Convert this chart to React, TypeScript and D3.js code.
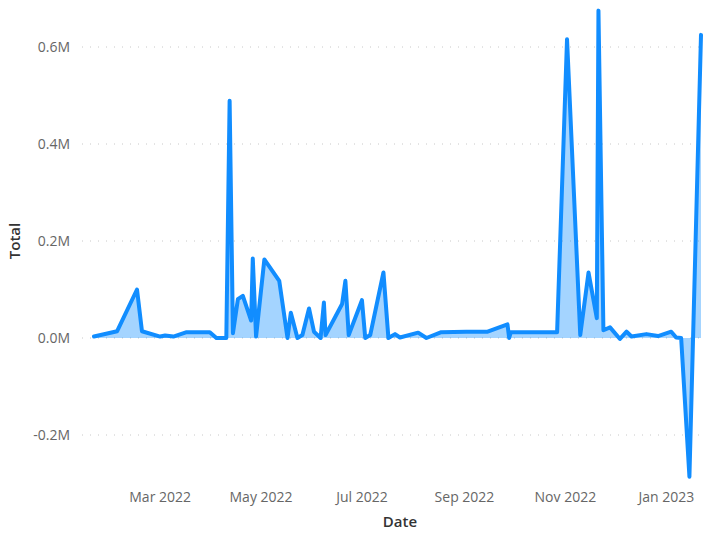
import React from "react";
import * as d3 from "d3";

// Daily totals
const dates: string[] = [
  "2022-01-20", "2022-02-03", "2022-02-15", "2022-02-18", "2022-03-01", "2022-03-04",
  "2022-03-09", "2022-03-17", "2022-03-31", "2022-04-04", "2022-04-10", "2022-04-12",
  "2022-04-14", "2022-04-17", "2022-04-20", "2022-04-25", "2022-04-26", "2022-04-28",
  "2022-05-03", "2022-05-12", "2022-05-17", "2022-05-19", "2022-05-23", "2022-05-26",
  "2022-05-30", "2022-06-02", "2022-06-06", "2022-06-08", "2022-06-09", "2022-06-19",
  "2022-06-21", "2022-06-23", "2022-07-01", "2022-07-03", "2022-07-06", "2022-07-14",
  "2022-07-17", "2022-07-21", "2022-07-24", "2022-08-04", "2022-08-09", "2022-08-18",
  "2022-09-02", "2022-09-15", "2022-09-27", "2022-09-28", "2022-09-29", "2022-10-27",
  "2022-11-02", "2022-11-10", "2022-11-15", "2022-11-20", "2022-11-21", "2022-11-24",
  "2022-11-28", "2022-12-04", "2022-12-08", "2022-12-11", "2022-12-20", "2022-12-27",
  "2023-01-04", "2023-01-07", "2023-01-10", "2023-01-15", "2023-01-22",
];

const totals: number[] = [
  3000, 14000, 100000, 14000, 3000, 5000,
  3000, 12000, 12000, 0, 0, 489000,
  10000, 80000, 87000, 36000, 164000, 3000,
  162000, 118000, 0, 52000, 0, 6000,
  61000, 13000, 0, 73000, 6000, 70000,
  118000, 6000, 78000, 0, 6000, 135000,
  0, 8000, 1000, 11000, 0, 12000,
  13000, 13000, 28000, 0, 12000, 12000,
  616000, 6000, 135000, 41000, 675000, 16000,
  22000, -2000, 13000, 3000, 8000, 4000,
  13000, 1000, 0, -286000, 625000,
];

const yTicks: number[] = [-200000, 0, 200000, 400000, 600000];
const xTicks: string[] = ["2022-03-01", "2022-05-01", "2022-07-01", "2022-09-01", "2022-11-01", "2023-01-01"];

const W = 704;
const H = 533;
const BLUE = "#118DFF";
const FONT = "'Open Sans', 'Noto Sans', sans-serif";

export default function App() {
  const parse = d3.utcParse("%Y-%m-%d");
  const data = dates.map((d, i) => ({ date: parse(d) as Date, value: totals[i] }));

  const x = d3
    .scaleUtc()
    .domain(d3.extent(data, (d) => d.date) as [Date, Date])
    .range([94, 701]);

  const y = d3.scaleLinear().domain([-200000, 600000]).range([435, 47]);

  const area = d3
    .area<{ date: Date; value: number }>()
    .x((d) => x(d.date))
    .y0(y(0))
    .y1((d) => y(d.value));

  const line = d3
    .line<{ date: Date; value: number }>()
    .x((d) => x(d.date))
    .y((d) => y(d.value));

  const fmtY = (v: number) => `${(v / 1e6).toFixed(1)}M`;
  const fmtX = d3.utcFormat("%b %Y");

  return (
    <svg
      width={W}
      height={H}
      style={{ position: "absolute", left: 0, top: 0, background: "#fff" }}
    >
      {/* horizontal gridlines */}
      {yTicks.map((t) => (
        <line
          key={`g${t}`}
          x1={82}
          x2={702}
          y1={y(t)}
          y2={y(t)}
          stroke="#c8c8c8"
          strokeWidth={1}
          strokeDasharray="1 7"
        />
      ))}

      {/* y tick labels */}
      {yTicks.map((t) => (
        <text
          key={`yt${t}`}
          x={70}
          y={y(t)}
          dy="0.35em"
          textAnchor="end"
          fontFamily={FONT}
          fontSize={14}
          fill="#666"
        >
          {fmtY(t)}
        </text>
      ))}

      {/* x tick labels */}
      {xTicks.map((t) => {
        const d = parse(t) as Date;
        return (
          <text
            key={`xt${t}`}
            x={x(d)}
            y={502}
            textAnchor="middle"
            fontFamily={FONT}
            fontSize={14}
            fill="#666"
          >
            {fmtX(d)}
          </text>
        );
      })}

      <path d={area(data) ?? ""} fill={BLUE} fillOpacity={0.38} />
      <path
        d={line(data) ?? ""}
        fill="none"
        stroke={BLUE}
        strokeWidth={4}
        strokeLinejoin="round"
        strokeLinecap="round"
      />

      {/* axis titles */}
      <text
        x={400}
        y={527}
        textAnchor="middle"
        fontFamily={FONT}
        fontSize={15}
        fontWeight={600}
        fill="#333"
      >
        Date
      </text>
      <text
        transform={`translate(20,${y(200000)}) rotate(-90)`}
        textAnchor="middle"
        fontFamily={FONT}
        fontSize={15}
        fontWeight={600}
        fill="#333"
      >
        Total
      </text>
    </svg>
  );
}
